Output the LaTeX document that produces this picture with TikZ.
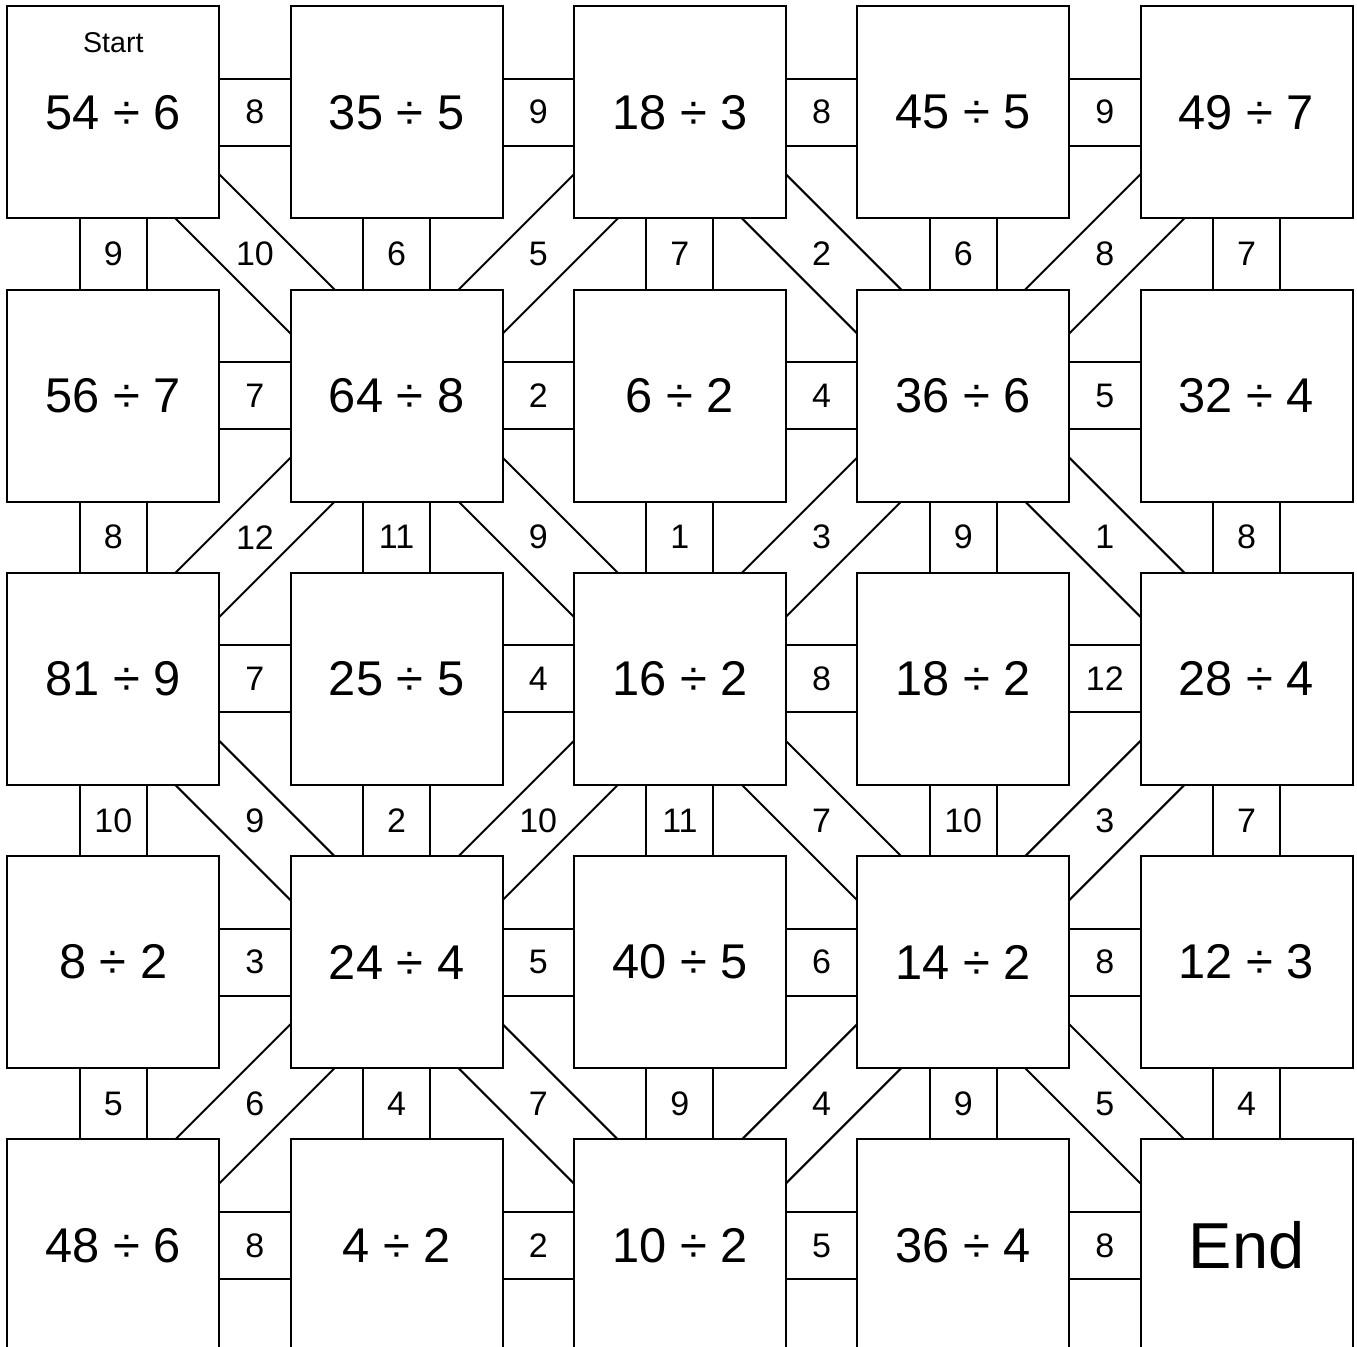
\documentclass[tikz,border=0pt]{standalone}
\usepackage{fontspec}
\setmainfont{Liberation Sans}
\usetikzlibrary{positioning,calc}

\begin{document}
\begin{tikzpicture}[x=0.5pt,y=0.5pt,line width=1pt,
    box/.style={draw,shape=rectangle,minimum size=106pt,inner sep=0pt,outer sep=0pt,
      font=\fontsize{24.4}{29}\selectfont},
    num/.style={inner sep=0pt,font=\fontsize{17}{20}\selectfont}]
\useasboundingbox (0,0) rectangle (1357,-1347);
\clip (0,0) rectangle (1357,-1347);

% the squares
\foreach \rw/\labs in {1/{54 ÷ 6,35 ÷ 5,18 ÷ 3,45 ÷ 5,49 ÷ 7},
    2/{56 ÷ 7,64 ÷ 8,6 ÷ 2,36 ÷ 6,32 ÷ 4},
    3/{81 ÷ 9,25 ÷ 5,16 ÷ 2,18 ÷ 2,28 ÷ 4},
    4/{8 ÷ 2,24 ÷ 4,40 ÷ 5,14 ÷ 2,12 ÷ 3},
    5/{48 ÷ 6,4 ÷ 2,10 ÷ 2,36 ÷ 4}}
  \foreach \t [count=\col] in \labs
    \draw node (b\rw\col) at (283.3*\col-170,171-283.3*\rw) [box]{\t};
\draw node (b55) at (1246.5,-1245.5) [box,font=\fontsize{32.5}{38}\selectfont]{End};
\draw node (start) [below=12.5pt of b11.north,inner sep=0pt,font=\fontsize{14.3}{17}\selectfont]{Start};

% horizontal links
\foreach \rw/\labs in {1/{8,9,8,9},2/{7,2,4,5},3/{7,4,8,12},4/{3,5,6,8},5/{8,2,5,8}}
  \foreach \l [count=\col] in \labs {
    \pgfmathtruncatemacro\nx{\col+1}
    \draw ([yshift=16.75pt]b\rw\col.east) -- ([yshift=16.75pt]b\rw\nx.west)
      ([yshift=-16.75pt]b\rw\col.east) -- ([yshift=-16.75pt]b\rw\nx.west);
    \node (h\rw\col) at ($(b\rw\col)!.5!(b\rw\nx)$) [num]{\l};
  }

% vertical links
\foreach \rw/\labs in {1/{9,6,7,6,7},2/{8,11,1,9,8},3/{10,2,11,10,7},4/{5,4,9,9,4}}
  \foreach \l [count=\col] in \labs {
    \pgfmathtruncatemacro\nr{\rw+1}
    \draw ([xshift=-16.75pt]b\rw\col.south) -- ([xshift=-16.75pt]b\nr\col.north)
      ([xshift=16.75pt]b\rw\col.south) -- ([xshift=16.75pt]b\nr\col.north);
    \node (v\rw\col) at ($(b\rw\col)!.5!(b\nr\col)$) [num]{\l};
  }

% diagonal links
\foreach \rw/\labs in {1/{10,5,2,8},2/{12,9,3,1},3/{9,10,7,3},4/{6,7,4,5}}
  \foreach \l [count=\col] in \labs {
    \pgfmathtruncatemacro\nr{\rw+1}
    \pgfmathtruncatemacro\nx{\col+1}
    \pgfmathtruncatemacro\odd{mod(\rw+\col,2)}
    \ifnum\odd=0
      \draw ([yshift=22pt]b\rw\col.south east) -- ([xshift=22pt]b\nr\nx.north west)
        ([xshift=-22pt]b\rw\col.south east) -- ([yshift=-22pt]b\nr\nx.north west);
    \else
      \draw ([yshift=22pt]b\rw\nx.south west) -- ([xshift=-22pt]b\nr\col.north east)
        ([xshift=22pt]b\rw\nx.south west) -- ([yshift=-22pt]b\nr\col.north east);
    \fi
    \node (d\rw\col) at ($(b\rw\col)!.5!(b\nr\nx)$) [num]{\l};
  }
\end{tikzpicture}
\end{document}
